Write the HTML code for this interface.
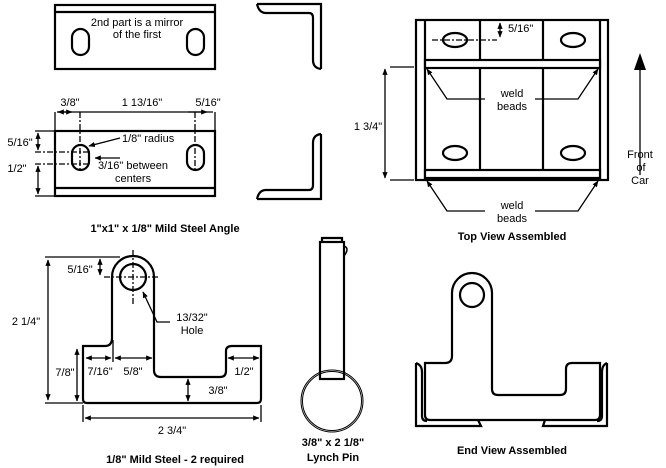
<!DOCTYPE html>
<html><head><meta charset="utf-8"><style>
html,body{margin:0;padding:0;background:#fff;}
svg{display:block;}
text{font-family:"Liberation Sans",sans-serif;font-size:11px;fill:#000;}
.b{font-weight:bold;font-size:11px;}
</style></head><body>
<svg width="666" height="468" viewBox="0 0 666 468" xmlns="http://www.w3.org/2000/svg">
<defs>
<marker id="a" viewBox="0 0 10 10" refX="9" refY="5" markerWidth="5" markerHeight="5" orient="auto-start-reverse"><path d="M0,1 L10,5 L0,9 z" fill="#000"/></marker>
</defs>
<g fill="none" stroke="#000" stroke-width="2.2">
<rect x="55" y="5" width="160" height="64"/>
<line x1="55" y1="12" x2="215" y2="12"/>
<rect x="72" y="29" width="17" height="26" rx="8.5"/>
<rect x="187" y="29" width="17" height="26" rx="8.5"/>
<path d="M257,4 L321,4 L321,69"/>
<path d="M257,4 Q259,13 266,13 L309,13 Q313,13 313,18 L313,60 Q313,68 321,69"/>
<path d="M257,199 L321,199 L321,134"/>
<path d="M257,199 Q259,190 266,190 L309,190 Q313,190 313,185 L313,143 Q313,135 321,134"/>
<rect x="55" y="131" width="160" height="65"/>
<line x1="55" y1="188" x2="215" y2="188"/>
<rect x="72" y="145" width="17" height="25" rx="8.5"/>
<rect x="187" y="145" width="17" height="25" rx="8.5"/>
<rect x="416" y="20" width="192" height="160"/>
<line x1="425" y1="20" x2="425" y2="180"/>
<line x1="600" y1="20" x2="600" y2="180"/>
<line x1="480" y1="20" x2="480" y2="180"/>
<line x1="543" y1="20" x2="543" y2="180"/>
<rect x="425" y="60" width="175" height="8" fill="#fff"/>
<rect x="425" y="170" width="175" height="8" fill="#fff"/>
<ellipse cx="455" cy="40" rx="12" ry="7"/>
<ellipse cx="573" cy="40" rx="12" ry="7"/>
<ellipse cx="455" cy="153" rx="12" ry="7"/>
<ellipse cx="573" cy="153" rx="12" ry="7"/>
<path d="M83,346 L105,346 Q112,346 112,338 L112,277 A21,21 0 0 1 154,277 L154,370 Q154,377 161,377 L220,377 Q226,377 226,371 L226,351 Q226,346 232,346 L261,346 L261,399 Q261,403 257,403 L87,403 Q83,403 83,399 Z"/>
<circle cx="133" cy="277" r="13"/>
<rect x="320" y="242" width="24" height="137"/>
<path d="M322,242 L322,238 L342,238 L342,242"/>
<path d="M344,246 Q350,248 344,256" stroke-width="1.5"/>
<path d="M425,363 L445,363 Q452,363 452,356 L452,293 A20,20 0 0 1 492,293 L492,389 Q492,395 498,395 L560,395 Q566,395 566,389 L566,369 Q566,363 572,363 L600,363 L600,415 Q600,420 595,420 L430,420 Q425,420 425,415 Z"/>
<circle cx="472" cy="295" r="12"/>
<path d="M416,363 L416,426 L481,426 L478,420"/>
<path d="M416,363 Q422,365 422,372 L422,416 Q422,421 427,421"/>
<path d="M545,420 L543,426 L607,426 L607,363"/>
<path d="M607,363 Q602,365 602,372 L602,416 Q602,421 597,421"/>
</g>
<g fill="none" stroke="#000" stroke-width="1">
<circle cx="332" cy="401" r="31"/>
<circle cx="332" cy="401" r="29.5"/>
</g>
<g fill="none" stroke="#000" stroke-width="1.3">
<line x1="55" y1="112" x2="55" y2="131"/><line x1="215" y1="112" x2="215" y2="131"/>
<line x1="57" y1="112" x2="213" y2="112"/>
<line x1="58" y1="112" x2="72" y2="112" marker-start="url(#a)" marker-end="url(#a)"/>
<line x1="188" y1="112" x2="207" y2="112" marker-end="url(#a)"/>
<line x1="80" y1="112" x2="80" y2="172" stroke-dasharray="6,2,2,2"/>
<line x1="195" y1="112" x2="195" y2="172" stroke-dasharray="6,2,2,2"/>
<line x1="35" y1="152" x2="88" y2="152" stroke-dasharray="6,2,2,2"/>
<line x1="35" y1="164" x2="88" y2="164" stroke-dasharray="6,2,2,2"/>
<line x1="35" y1="131" x2="55" y2="131"/><line x1="35" y1="196" x2="55" y2="196"/>
<line x1="38" y1="133" x2="38" y2="150" marker-start="url(#a)" marker-end="url(#a)"/>
<line x1="38" y1="166" x2="38" y2="194" marker-start="url(#a)" marker-end="url(#a)"/>
<line x1="120" y1="138" x2="89" y2="146" marker-end="url(#a)"/>
<line x1="120" y1="158" x2="95" y2="158" marker-end="url(#a)"/>
<line x1="480" y1="20" x2="497" y2="20"/>
<line x1="500" y1="23" x2="500" y2="37" marker-start="url(#a)" marker-end="url(#a)"/>
<line x1="432" y1="40" x2="497" y2="40" stroke-dasharray="6,2,2,2"/>
<line x1="390" y1="67" x2="414" y2="67"/><line x1="390" y1="180" x2="414" y2="180"/>
<line x1="385" y1="69" x2="385" y2="178" marker-start="url(#a)" marker-end="url(#a)"/>
<polyline points="485,99 447,99 427,69" marker-end="url(#a)"/>
<polyline points="535,99 578,99 598,69" marker-end="url(#a)"/>
<polyline points="485,211 447,211 427,181" marker-end="url(#a)"/>
<polyline points="535,211 578,211 598,181" marker-end="url(#a)"/>
<line x1="640" y1="175" x2="640" y2="60"/>
<line x1="45" y1="257" x2="120" y2="257"/><line x1="45" y1="403" x2="83" y2="403"/>
<line x1="48" y1="260" x2="48" y2="400" marker-start="url(#a)" marker-end="url(#a)"/>
<line x1="100" y1="259" x2="100" y2="275" marker-start="url(#a)" marker-end="url(#a)"/>
<line x1="104" y1="277" x2="160" y2="277" stroke-dasharray="6,2,2,2"/>
<line x1="133" y1="250" x2="133" y2="305" stroke-dasharray="6,2,2,2"/>
<polyline points="170,322 157,322 143,292" marker-end="url(#a)"/>
<line x1="77" y1="349" x2="77" y2="401" marker-start="url(#a)" marker-end="url(#a)"/>
<line x1="113" y1="340" x2="113" y2="362"/>
<line x1="86" y1="358" x2="111" y2="358" marker-start="url(#a)" marker-end="url(#a)"/>
<line x1="115" y1="358" x2="152" y2="358" marker-start="url(#a)" marker-end="url(#a)"/>
<line x1="228" y1="358" x2="259" y2="358" marker-start="url(#a)" marker-end="url(#a)"/>
<line x1="188" y1="379" x2="188" y2="401" marker-start="url(#a)" marker-end="url(#a)"/>
<line x1="83" y1="405" x2="83" y2="422"/><line x1="261" y1="405" x2="261" y2="422"/>
<line x1="85" y1="418" x2="259" y2="418" marker-start="url(#a)" marker-end="url(#a)"/>
</g>
<path d="M640,53 L634,70 L646,70 Z" fill="#000"/>
<text x="137" y="26" text-anchor="middle">2nd part is a mirror</text>
<text x="137" y="38" text-anchor="middle">of the first</text>
<text x="70" y="106" text-anchor="middle">3/8"</text>
<text x="142" y="106" text-anchor="middle">1 13/16"</text>
<text x="208" y="106" text-anchor="middle">5/16"</text>
<text x="20" y="146" text-anchor="middle">5/16"</text>
<text x="17" y="172" text-anchor="middle">1/2"</text>
<text x="122" y="142">1/8" radius</text>
<text x="98" y="169">3/16" between</text>
<text x="115" y="182">centers</text>
<text class="b" x="165" y="232" text-anchor="middle">1"x1" x 1/8" Mild Steel Angle</text>
<text x="508" y="32">5/16"</text>
<text x="368" y="130" text-anchor="middle">1 3/4"</text>
<text x="512" y="97" text-anchor="middle">weld</text>
<text x="512" y="110" text-anchor="middle">beads</text>
<text x="512" y="209" text-anchor="middle">weld</text>
<text x="512" y="222" text-anchor="middle">beads</text>
<text x="640" y="158" text-anchor="middle">Front</text>
<text x="641" y="171" text-anchor="middle">of</text>
<text x="640" y="184" text-anchor="middle">Car</text>
<text class="b" x="512" y="240" text-anchor="middle">Top View Assembled</text>
<text x="80" y="273" text-anchor="middle">5/16"</text>
<text x="26" y="325" text-anchor="middle">2 1/4"</text>
<text x="192" y="321" text-anchor="middle">13/32"</text>
<text x="192" y="334" text-anchor="middle">Hole</text>
<text x="65" y="376" text-anchor="middle">7/8"</text>
<text x="100" y="375" text-anchor="middle">7/16"</text>
<text x="133" y="375" text-anchor="middle">5/8"</text>
<text x="244" y="375" text-anchor="middle">1/2"</text>
<text x="218" y="394" text-anchor="middle">3/8"</text>
<text x="172" y="434" text-anchor="middle">2 3/4"</text>
<text class="b" x="175" y="463" text-anchor="middle">1/8" Mild Steel - 2 required</text>
<text class="b" x="333" y="446" text-anchor="middle">3/8" x 2 1/8"</text>
<text class="b" x="333" y="461" text-anchor="middle">Lynch Pin</text>
<text class="b" x="512" y="454" text-anchor="middle">End View Assembled</text>
</svg>
</body></html>
